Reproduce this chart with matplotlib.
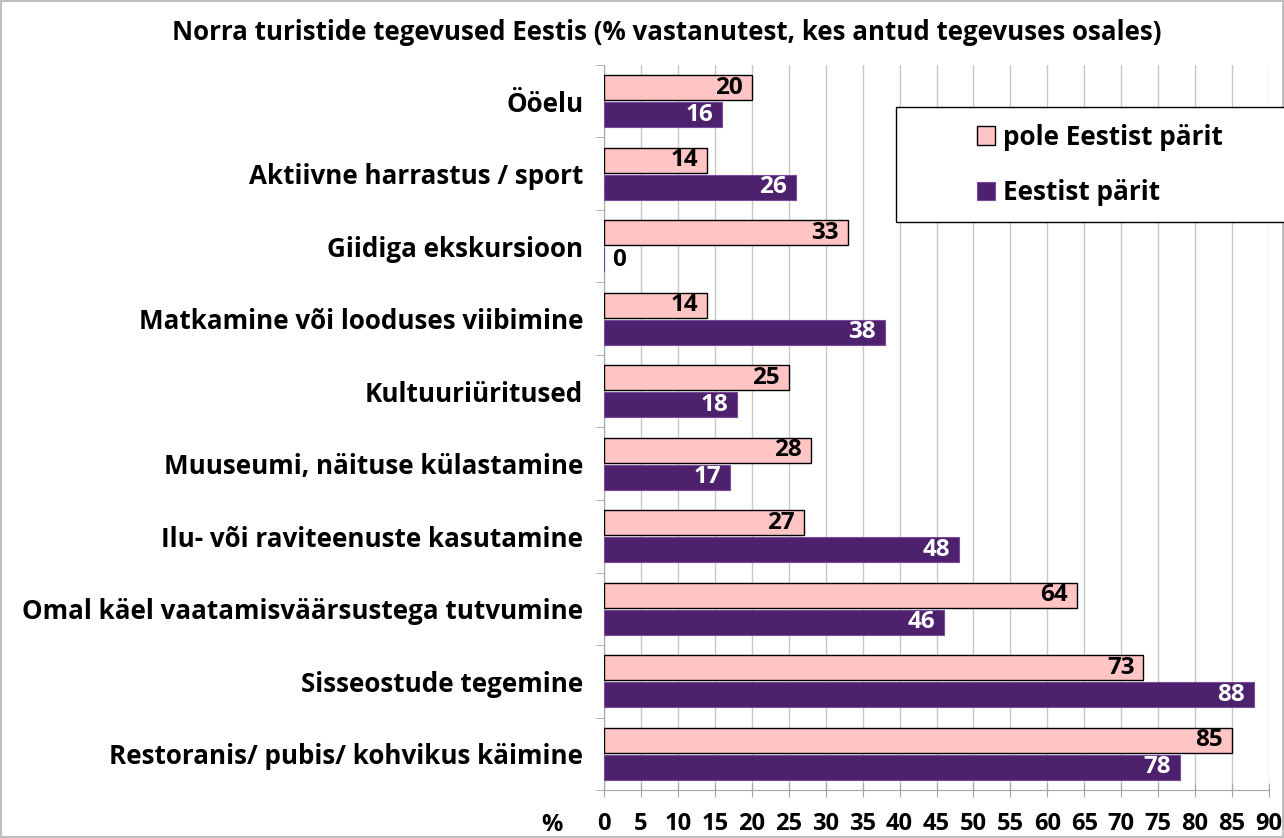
import numpy as np
import matplotlib
matplotlib.use("Agg")
import matplotlib.pyplot as plt
from matplotlib.patches import Rectangle

plt.rcParams["font.family"] = ["Open Sans", "DejaVu Sans"]
plt.rcParams["font.weight"] = "bold"

categories = [
    "Ööelu",
    "Aktiivne harrastus / sport",
    "Giidiga ekskursioon",
    "Matkamine või looduses viibimine",
    "Kultuuriüritused",
    "Muuseumi, näituse külastamine",
    "Ilu- või raviteenuste kasutamine",
    "Omal käel vaatamisväärsustega tutvumine",
    "Sisseostude tegemine",
    "Restoranis/ pubis/ kohvikus käimine",
]
pole_eestist = [20, 14, 33, 14, 25, 28, 27, 64, 73, 85]
eestist = [16, 26, 0, 38, 18, 17, 48, 46, 88, 78]
x_ticks = list(range(0, 91, 5))
title = "Norra turistide tegevused Eestis (% vastanutest, kes antud tegevuses osales)"

pink = "#FFC5C5"
purple = "#4D216E"

W, H = 1284, 838
fig = plt.figure(figsize=(W / 100, H / 100), dpi=100)
fig.patch.set_edgecolor("#BFBFBF")
fig.patch.set_linewidth(1.5)

ax = fig.add_axes([604 / W, 1 - 790 / H, (1269 - 604) / W, (790 - 65) / H])

y = np.arange(len(categories))
off = 0.186
h = 0.345
ax.barh(y - off, pole_eestist, height=h, color=pink, edgecolor="black", linewidth=1, zorder=3,
        label="pole Eestist pärit")
ax.barh(y + off, eestist, height=h, color=purple, edgecolor="#7A4A9A", linewidth=0.8, zorder=3,
        label="Eestist pärit")

fs_lab = 17.5
for i in range(len(categories)):
    v = pole_eestist[i]
    ax.text(v - 1.2, y[i] - off, str(v), ha="right", va="center", fontsize=fs_lab,
            fontweight="bold", color="black", zorder=4)
    v = eestist[i]
    if v == 0:
        ax.text(1.1, y[i] + off, str(v), ha="left", va="center", fontsize=fs_lab,
                fontweight="bold", color="black", zorder=4)
    else:
        ax.text(v - 1.2, y[i] + off, str(v), ha="right", va="center", fontsize=fs_lab,
                fontweight="bold", color="white", zorder=4)

ax.set_xlim(0, 90)
ax.set_ylim(len(categories) - 0.5, -0.5)
ax.set_xticks(x_ticks)
ax.set_xticklabels([str(t) for t in x_ticks], fontsize=17, fontweight="bold")
ax.set_yticks(y)
ax.set_yticklabels(categories, fontsize=18.7, fontweight="bold")
ax.tick_params(axis="y", length=0, pad=15)
ax.set_yticks(np.arange(-0.5, len(categories), 1), minor=True)
ax.tick_params(axis="y", which="minor", length=6, color="#A6A6A6", direction="out")
ax.tick_params(axis="x", length=10, color="#A6A6A6", direction="inout", pad=11)
ax.grid(axis="x", color="#C8C8C8", linewidth=1, zorder=0)
for s in ["top", "right"]:
    ax.spines[s].set_visible(False)
for s in ["left", "bottom"]:
    ax.spines[s].set_color("#A6A6A6")

fig.text(552 / W, 1 - 825 / H, "%", ha="center", va="center", fontsize=17, fontweight="bold")
fig.text(667 / W, 1 - 33 / H, title, ha="center", va="center", fontsize=18.6, fontweight="bold")

# legend box
fig.patches.append(Rectangle((896 / W, 1 - 222 / H), (W - 896 + 5) / W, 115 / H,
                             transform=fig.transFigure, facecolor="white", edgecolor="black",
                             linewidth=1, zorder=5))
leg = fig.legend(loc="center left", bbox_to_anchor=(953 / W, 1 - 165 / H), frameon=False,
                 handlelength=0.7, handleheight=0.7, handletextpad=0.3,
                 labelspacing=1.1, prop={"weight": "bold", "size": 18.8})
leg.set_zorder(6)

fig.savefig("out.png", dpi=100)
